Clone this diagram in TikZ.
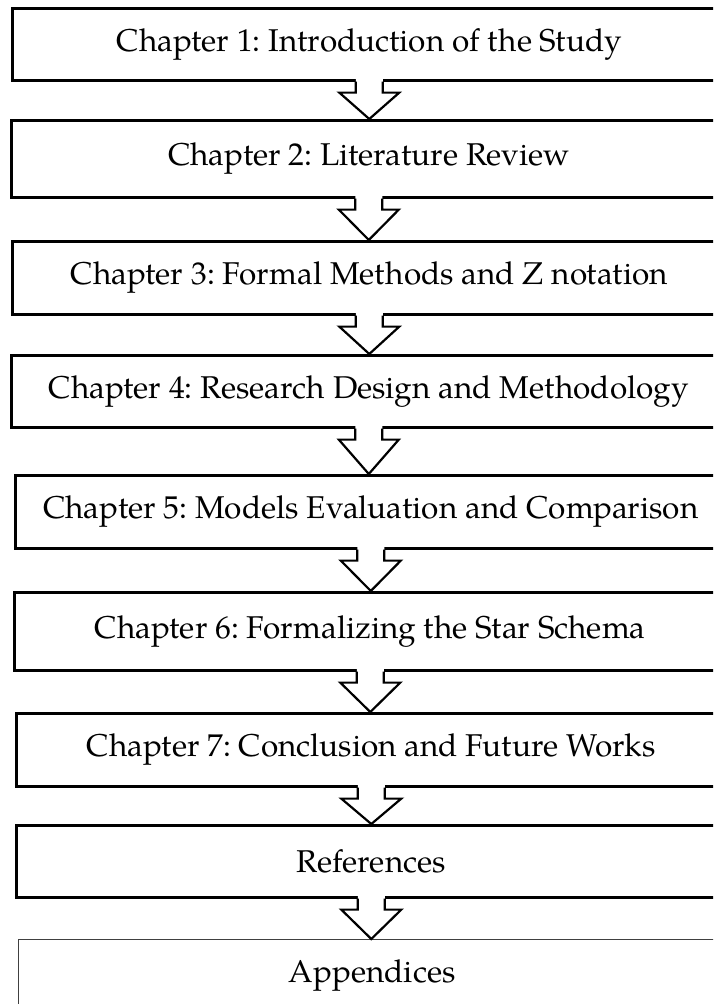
\documentclass[tikz,border=0pt]{standalone}
\usepackage{fontspec}
\setmainfont{TeX Gyre Pagella}
\usetikzlibrary{calc}

\tikzset{
  chapbox/.style={draw=black, line width=2.6pt, fill=white, inner sep=0pt,
    anchor=north west, font=\fontsize{31.5}{36}\selectfont\frenchspacing},
  lastbox/.style={chapbox, draw=black!75, line width=1.4pt},
  flowline/.style={draw=black, line width=2.2pt, line join=miter},
}

% hollow block arrow from the bottom edge of #1 to the top edge of #2
\newcommand{\blockarrow}[2]{%
  \fill[white] ($(#1.south)+(-13.5,-3)$) -- ($(#1.south)+(-13.5,11)$)
    -- ($(#1.south)+(-30,11)$) -- (#1.south |- #2.north)
    -- ($(#1.south)+(30,11)$) -- ($(#1.south)+(13.5,11)$)
    -- ($(#1.south)+(13.5,-3)$) -- cycle;
  \draw[flowline] ($(#1.south)+(-13.5,0)$) -- ($(#1.south)+(-13.5,11)$)
    -- ($(#1.south)+(-30,11)$) -- (#1.south |- #2.north)
    -- ($(#1.south)+(30,11)$) -- ($(#1.south)+(13.5,11)$)
    -- ($(#1.south)+(13.5,0)$);
}

\begin{document}
\begin{tikzpicture}[x=1pt, y=-1pt]
\useasboundingbox (0,0) rectangle (713,1004);
\clip (0,0) rectangle (713,1004);
\fill[white] (0,0) rectangle (713,1004);

\node[chapbox, minimum width=714pt, minimum height=72pt] (c1) at (11,7)
  {Chapter 1: Introduction of the Study};
\node[chapbox, minimum width=715pt, minimum height=77pt] (c2) at (10,119)
  {Chapter 2: Literature Review};
\node[chapbox, minimum width=714pt, minimum height=73pt] (c3) at (11,240)
  {Chapter 3: Formal Methods and Z notation};
\node[chapbox, minimum width=715pt, minimum height=72pt] (c4) at (10,354)
  {Chapter 4: Research Design and Methodology};
\node[chapbox, minimum width=711pt, minimum height=73pt] (c5) at (14,474)
  {Chapter 5: Models Evaluation and Comparison};
\node[chapbox, minimum width=712pt, minimum height=78pt] (c6) at (13,591)
  {Chapter 6: Formalizing the Star Schema};
\node[chapbox, minimum width=710pt, minimum height=73pt] (c7) at (15,712)
  {Chapter 7: Conclusion and Future Works};
\node[chapbox, minimum width=710pt, minimum height=72pt] (c8) at (15,824)
  {References};
\node[lastbox, minimum width=707pt, minimum height=72pt] (c9) at (18,939)
  {Appendices};

\blockarrow{c1}{c2}
\blockarrow{c2}{c3}
\blockarrow{c3}{c4}
\blockarrow{c4}{c5}
\blockarrow{c5}{c6}
\blockarrow{c6}{c7}
\blockarrow{c7}{c8}
\blockarrow{c8}{c9}
\end{tikzpicture}
\end{document}
